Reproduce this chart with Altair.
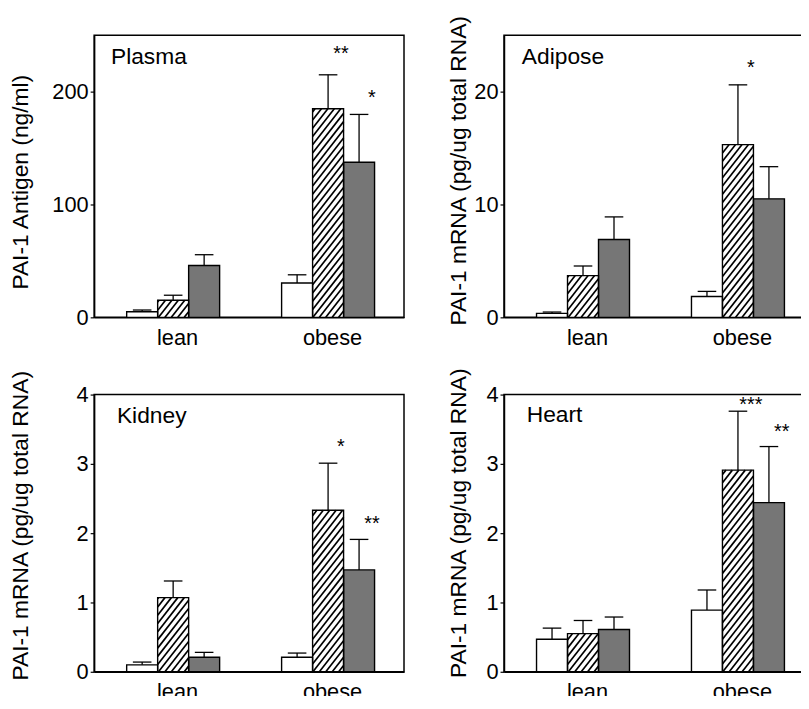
import math
import altair as alt
import pandas as pd

# ---------------- data ----------------
groups = ["lean", "obese"]
series = ["open", "hatched", "dark"]
panel_names = ["Plasma", "Adipose", "Kidney", "Heart"]
y_titles = ["PAI-1 Antigen (ng/ml)", "PAI-1 mRNA (pg/ug total RNA)",
            "PAI-1 mRNA (pg/ug total RNA)", "PAI-1 mRNA (pg/ug total RNA)"]
y_max = [250, 25, 4, 4]
y_ticks = [[0, 100, 200], [0, 10, 20], [0, 1, 2, 3, 4], [0, 1, 2, 3, 4]]

# order: lean-open, lean-hatched, lean-dark, obese-open, obese-hatched, obese-dark
plasma_mean = [5.0, 15.2, 45.9, 30.4, 184.8, 137.4]
plasma_err = [1.5, 4.4, 9.6, 7.3, 30.1, 42.4]
adipose_mean = [0.35, 3.7, 6.9, 1.85, 15.3, 10.5]
adipose_err = [0.12, 0.85, 2.0, 0.45, 5.3, 2.85]
kidney_mean = [0.10, 1.07, 0.21, 0.21, 2.33, 1.47]
kidney_err = [0.04, 0.24, 0.07, 0.06, 0.68, 0.44]
heart_mean = [0.47, 0.55, 0.61, 0.89, 2.91, 2.44]
heart_err = [0.16, 0.19, 0.18, 0.29, 0.85, 0.81]

plasma_stars = ["", "", "", "", "**", "*"]
adipose_stars = ["", "", "", "", "*", ""]
kidney_stars = ["", "", "", "", "*", "**"]
heart_stars = ["", "", "", "", "***", "**"]
plasma_star_y = [None, None, None, None, 238, 198.5]
adipose_star_y = [None, None, None, None, 22.5, None]
kidney_star_y = [None, None, None, None, 3.31, 2.2]
heart_star_y = [None, None, None, None, 3.92, 3.53]

all_means = [plasma_mean, adipose_mean, kidney_mean, heart_mean]
all_errs = [plasma_err, adipose_err, kidney_err, heart_err]
all_stars = [plasma_stars, adipose_stars, kidney_stars, heart_stars]
all_star_y = [plasma_star_y, adipose_star_y, kidney_star_y, heart_star_y]

# ---------------- layout / style ----------------
FONT = "Liberation Sans"
PLOT_HS = [285, 285, 280, 280]
PLOT_W = 313
BAR_W = 0.1
GROUP_X0 = [0.105, 0.605]
CAP_HALF = 0.03
HATCH_STEP = 6.5
HATCH_ANGLE = 52
FILLS = ["white", "white", "#767676"]
TITLE_X = [-62, -34, -62, -34]
TITLE_DY = [5.5, -6, -8, -10.5]
LABEL_POS = [(17, 29), (18, 29), (23, 29), (23, 28)]
SVG_W, SVG_H = 801, 688
PAD_L, PAD_T = 87, 24


def make_panel(i):
    means, errs = all_means[i], all_errs[i]
    stars, star_y = all_stars[i], all_star_y[i]
    plot_h = PLOT_HS[i]
    rows = []
    for gi, g in enumerate(groups):
        for si, s in enumerate(series):
            k = gi * 3 + si
            x0 = GROUP_X0[gi] + si * BAR_W
            xc = x0 + BAR_W / 2
            rows.append(dict(group=g, series=s, x0=x0, x1=x0 + BAR_W, xc=xc,
                             cap0=xc - CAP_HALF, cap1=xc + CAP_HALF, base=0.0,
                             mean=means[k], top=means[k] + errs[k],
                             star=stars[k], star_y=star_y[k]))
    df = pd.DataFrame(rows)

    xs = alt.Scale(domain=[0, 1], nice=False, zero=False)
    ys = alt.Scale(domain=[0, y_max[i]], nice=False)
    label_expr = f"datum.value < 0.5 ? '{groups[0]}' : '{groups[1]}'"
    xaxis = alt.Axis(values=[GROUP_X0[0] + 1.5 * BAR_W, GROUP_X0[1] + 1.5 * BAR_W],
                     labelExpr=label_expr, ticks=False, tickSize=0, grid=False,
                     domainColor="black", domainWidth=1.5, labelFontSize=22,
                     labelColor="black", labelPadding=10, labelOffset=4,
                     title=None, labelFont=FONT)
    yaxis = alt.Axis(values=y_ticks[i], tickSize=4, tickColor="black", tickWidth=1.2,
                     domainColor="black", domainWidth=1.5, grid=False,
                     labelFontSize=22, labelColor="black", labelPadding=2, labelFont=FONT,
                     title=y_titles[i], titleFontSize=23, titleFontWeight="normal",
                     titleColor="black", titleFont=FONT, titleX=TITLE_X[i],
                     titleY=plot_h / 2 + TITLE_DY[i])

    def X(f):
        return alt.X(f, type="quantitative", scale=xs, axis=xaxis)

    def Y(f):
        return alt.Y(f, type="quantitative", scale=ys, axis=yaxis)

    fill = alt.Fill("series:N", scale=alt.Scale(domain=series, range=FILLS), legend=None)

    bars = alt.Chart(df).mark_rect(strokeWidth=0).encode(
        x=X("x0"), x2="x1", y=Y("base"), y2="mean", fill=fill)

    # hatch lines for the hatched bars, derived from the bar values
    px_y = plot_h / y_max[i]
    a = 1 / math.tan(math.radians(HATCH_ANGLE))
    hrows = []
    for _, r in df[df.series == series[1]].iterrows():
        L, R, T = r.x0 * PLOT_W, r.x1 * PLOT_W, r["mean"] * px_y
        kmin = math.floor((L - a * T) / HATCH_STEP) - 1
        kmax = math.ceil(R / HATCH_STEP) + 1
        for k in range(kmin, kmax + 1):
            c = k * HATCH_STEP
            ylo = max(0.0, (L - c) / a)
            yhi = min(T, (R - c) / a)
            if yhi - ylo > 0.3:
                hrows.append(dict(hx1=(a * ylo + c) / PLOT_W, hy1=ylo / px_y,
                                  hx2=(a * yhi + c) / PLOT_W, hy2=yhi / px_y))
    hdf = pd.DataFrame(hrows)
    hatch = alt.Chart(hdf).mark_rule(color="black", strokeWidth=1.7).encode(
        x=X("hx1"), x2="hx2", y=Y("hy1"), y2="hy2")

    outline = alt.Chart(df).mark_rect(fillOpacity=0, stroke="black", strokeWidth=1.4).encode(
        x=X("x0"), x2="x1", y=Y("base"), y2="mean")

    err_line = alt.Chart(df).mark_rule(color="black", strokeWidth=1.3).encode(
        x=X("xc"), y=Y("mean"), y2="top")
    err_cap = alt.Chart(df).mark_rule(color="black", strokeWidth=1.3).encode(
        x=X("cap0"), x2="cap1", y=Y("top"))

    sdf = df[df.star != ""]
    star_txt = alt.Chart(sdf).mark_text(fontSize=20, dx=13, dy=11, baseline="alphabetic",
                                        align="center", color="black", font=FONT).encode(
        x=X("xc"), y=Y("star_y"), text="star:N")

    lx, ly = LABEL_POS[i]
    one = pd.DataFrame({"name": [panel_names[i]]})
    label = alt.Chart(one).mark_text(align="left", baseline="alphabetic", fontSize=23,
                                     color="black", font=FONT, x=lx, y=ly).encode(
        text="name:N")

    return alt.layer(bars, hatch, outline, err_line, err_cap, star_txt, label).properties(
        width=PLOT_W, height=plot_h)


p = [make_panel(i) for i in range(4)]
chart = alt.vconcat(
    alt.hconcat(p[0], p[1], spacing=42),
    alt.hconcat(p[2], p[3], spacing=42),
    spacing=17,
).properties(
    autosize=alt.AutoSizeParams(type="none"),
    padding={"left": PAD_L, "top": PAD_T, "right": SVG_W - PAD_L, "bottom": SVG_H - PAD_T},
).configure(font=FONT).configure_view(stroke="black", strokeWidth=1.5)

chart.save("out.html", embed_options={"renderer": "svg", "actions": False})
